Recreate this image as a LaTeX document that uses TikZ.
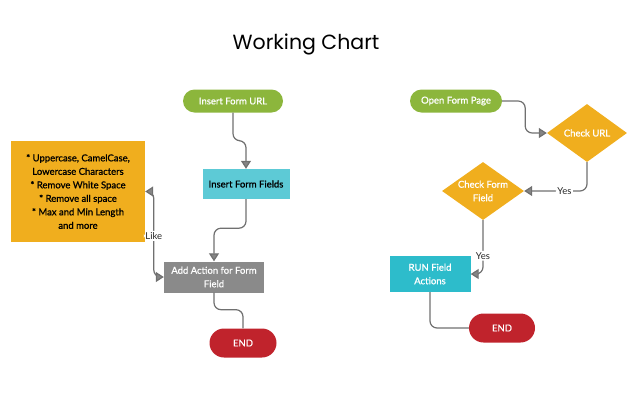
\documentclass[tikz,border=0pt]{standalone}
\usepackage{fontspec}
\setmainfont{Lato}[UprightFeatures={FakeBold=0.9}]
\newfontfamily\plainfont{Lato}
\newfontfamily\titlefont{Poppins}
\usetikzlibrary{arrows.meta, positioning, shapes.geometric}
\definecolor{startgreen}{HTML}{8CB63C}
\definecolor{fieldcyan}{HTML}{5DCAD6}
\definecolor{runcyan}{HTML}{2DBCCB}
\definecolor{actiongray}{HTML}{8A8A8A}
\definecolor{tipsorange}{HTML}{F0AE1E}
\definecolor{endred}{HTML}{C0232C}
\definecolor{linkgray}{HTML}{707070}

\begin{document}
\begin{tikzpicture}[
    x=1pt, y=-1pt,
    every node/.style={font=\fontsize{9.5}{13.5}\selectfont},
    pill/.style={rectangle, rounded corners=11.5pt, minimum height=23pt,
                 inner sep=0pt, text=white, align=center},
    procbox/.style={rectangle, inner sep=0pt, align=center},
    check/.style={diamond, fill=tipsorange, inner sep=0pt,
                  minimum width=80pt, minimum height=58pt},
    checktext/.style={label={[align=center, text=white]center:{#1}}},
    link/.style={draw=linkgray, line width=1.2pt, rounded corners=7pt},
    arr/.style={link, -{Triangle[width=10pt,length=8pt,fill=linkgray!85]}},
    lbl/.style={fill=white, inner sep=1.5pt, text=black!85, font=\plainfont\fontsize{9.5}{12}\selectfont},
  ]
  \useasboundingbox (0,0) rectangle (640,400);
  \node[font=\titlefont\fontsize{20.5}{24}\selectfont] (title) at (306,44) {Working Chart};

  % left flow
  \node[pill, fill=startgreen, minimum width=100pt] (url) at (233,101) {Insert Form URL};
  \node[procbox, fill=fieldcyan, minimum width=87pt, minimum height=30pt] (fields) at (246,184) {Insert Form Fields};
  \node[procbox, fill=actiongray, text=white, minimum width=100pt, minimum height=31pt] (action) at (214,277) {Add Action for Form\\Field};
  \node[procbox, fill=tipsorange, minimum width=134pt, minimum height=101pt] (tips) at (78,191.5)
    {* Uppercase, CamelCase,\\Lowercase Characters\\* Remove White Space\\* Remove all space\\* Max and Min Length\\and more};
  \node[pill, fill=endred, minimum width=67pt, minimum height=29pt, rounded corners=14.5pt] (endA) at (243,343) {END};

  \draw[arr] (url.south) -- ++(0,28) -| (fields.north);
  \draw[arr] (fields.south) -- ++(0,29) -| (action.north);
  \draw[arr, {Triangle[width=10pt,length=8pt,fill=linkgray!85]}-{Triangle[width=10pt,length=8pt,fill=linkgray!85]}]
    (action.west) -- ++(-10,0) |- (tips.east) node[lbl, pos=0.24] {Like};
  \draw[link] (action.south) -- ++(0,17) -| (endA.north);

  % right flow
  \node[pill, fill=startgreen, minimum width=92pt] (open) at (456,101) {Open Form Page};
  \node[check, checktext=Check URL] (checkurl) at (587,133) {};
  \node[check, minimum width=82pt, checktext=Check Form\\Field] (checkfield) at (483,191) {};
  \node[procbox, fill=runcyan, text=white, minimum width=81pt, minimum height=36pt] (run) at (430,274) {RUN Field\\Actions};
  \node[pill, fill=endred, minimum width=66pt, minimum height=29pt, rounded corners=14.5pt] (endB) at (502,328) {END};

  \draw[arr] (open.east) -- ++(23,0) |- (checkurl.west);
  \draw[arr] (checkurl.south) |- (checkfield.east) node[lbl, pos=0.68] {Yes};
  \draw[arr] (checkfield.south) |- (run.east) node[lbl, pos=0.33] {Yes};
  \draw[link] (run.south) |- (endB.west);
\end{tikzpicture}
\end{document}
